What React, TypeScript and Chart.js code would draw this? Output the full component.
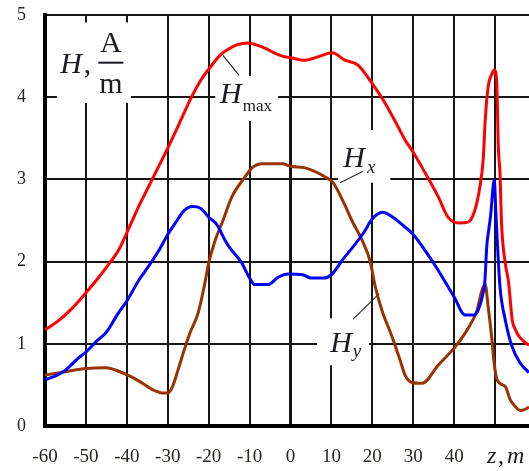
import React, { useEffect, useRef } from "react";
import { Chart, registerables } from "chart.js";

Chart.register(...registerables);

// Position along the axis, z (m)
const zTicks = [-60, -50, -40, -30, -20, -10, 0, 10, 20, 30, 40, 50];
const hTicks = [0, 1, 2, 3, 4, 5];

// H_max (red)
const zMax = [-60, -57, -54, -50, -47, -45, -42, -40, -37, -35, -33, -30, -27, -25, -24, -22, -20, -17, -15, -13, -10.5, -8, -6, -4, -2, 0, 3.6, 6.7, 10.2, 13.3, 16.5, 19.9, 23.1, 26.3, 28, 30, 32.9, 36.1, 38.5, 41, 43.4, 45.1, 46.3, 47.1, 47.6, 48.3, 49.3, 49.8, 50.4, 50.8, 51.2, 51.6, 52.5, 53.3, 54.2, 55, 56, 58.3];
const hMax = [1.17, 1.27, 1.4, 1.62, 1.8, 1.93, 2.14, 2.35, 2.68, 2.88, 3.08, 3.38, 3.7, 3.92, 4.02, 4.2, 4.34, 4.52, 4.59, 4.64, 4.66, 4.63, 4.59, 4.54, 4.5, 4.48, 4.45, 4.49, 4.54, 4.45, 4.39, 4.17, 3.93, 3.64, 3.48, 3.33, 3.08, 2.79, 2.54, 2.47, 2.48, 2.63, 2.91, 3.24, 3.72, 4.12, 4.29, 4.33, 4.2, 3.4, 3.08, 2.45, 1.98, 1.75, 1.29, 1.17, 1.08, 0.98];

// H_y (blue)
const zY = [-60, -57, -55, -52, -50, -47, -45, -42, -40, -37, -35, -32, -30, -28, -26, -24, -22, -20, -18, -16, -15, -12, -10, -8.7, -5.5, -3, -0.6, 3, 5, 8, 10, 13, 15, 18, 20, 22.5, 25, 28, 30, 35, 40, 42.7, 45, 46.5, 47, 47.5, 48, 48.5, 49, 49.5, 49.8, 50.2, 50.6, 51.2, 52.5, 54.2, 56.1, 58.3];
const hY = [0.56, 0.62, 0.68, 0.82, 0.9, 1.05, 1.14, 1.38, 1.52, 1.78, 1.92, 2.15, 2.33, 2.48, 2.62, 2.67, 2.65, 2.54, 2.45, 2.26, 2.18, 1.99, 1.8, 1.72, 1.72, 1.81, 1.85, 1.84, 1.8, 1.8, 1.84, 2.04, 2.16, 2.36, 2.52, 2.6, 2.54, 2.42, 2.33, 1.98, 1.57, 1.35, 1.35, 1.5, 1.6, 1.75, 2.2, 2.4, 2.6, 2.9, 3.0, 2.6, 2.2, 1.7, 1.29, 0.96, 0.77, 0.65];

// H_x (brown)
const zX = [-60, -55, -50, -45, -41.7, -39, -36.8, -33.6, -31, -30, -29, -27.5, -26, -24.5, -22.6, -21, -20, -18.4, -16.5, -14.3, -11.1, -9.4, -6.9, -2, 0, 3.6, 8.5, 10.4, 12.9, 15, 17.5, 19.5, 20.7, 22.4, 24.8, 26.8, 28, 29.7, 32.2, 36.1, 40.2, 43.2, 45.6, 46.8, 47.6, 48.3, 49.3, 49.7, 50.5, 52.5, 53.7, 54.9, 56.1, 57.2, 58.3];
const hX = [0.62, 0.66, 0.7, 0.71, 0.66, 0.6, 0.54, 0.44, 0.4, 0.4, 0.46, 0.68, 0.92, 1.14, 1.37, 1.72, 1.98, 2.26, 2.5, 2.79, 3.03, 3.14, 3.19, 3.19, 3.16, 3.14, 3.03, 2.96, 2.73, 2.5, 2.26, 2.0, 1.7, 1.4, 1.09, 0.8, 0.62, 0.53, 0.52, 0.74, 0.96, 1.17, 1.41, 1.65, 1.72, 1.46, 1.02, 0.8, 0.56, 0.48, 0.32, 0.24, 0.19, 0.2, 0.23];

const toPoints = (zs: number[], hs: number[]) => zs.map((z, i) => ({ x: z, y: hs[i] }));

const SERIF = '"Liberation Serif", "Times New Roman", serif';
const INK = "#1c1c22";

// White patches behind the curve labels, in axis units
const labelPatches = [
  { z0: -57.1, z1: -39.0, h0: 4.91, h1: 3.93 },
  { z0: -18.4, z1: -3.0, h0: 4.26, h1: 3.71 },
  { z0: 11.6, z1: 24.4, h0: 3.6, h1: 2.96 },
  { z0: 6.5, z1: 19.2, h0: 1.31, h1: 0.74 },
];

// Leader lines from labels to curves, in axis units
const leaders = [
  { z0: -16.5, h0: 4.51, z1: -12.6, h1: 4.27 },
  { z0: 12.1, h0: 2.96, z1: 17.8, h1: 3.1 },
  { z0: 15.3, h0: 1.3, z1: 21.7, h1: 1.61 },
];

const labelPlugin = {
  id: "fieldLabels",
  beforeDatasetsDraw(chart: any) {
    const { ctx } = chart;
    const xs = chart.scales.x;
    const ys = chart.scales.y;
    const px = (v: number) => xs.getPixelForValue(v);
    const py = (v: number) => ys.getPixelForValue(v);
    ctx.save();

    ctx.fillStyle = "#ffffff";
    for (const p of labelPatches) {
      const x0 = px(p.z0), x1 = px(p.z1), y0 = py(p.h0), y1 = py(p.h1);
      ctx.fillRect(x0, y0, x1 - x0, y1 - y0);
    }

    ctx.strokeStyle = "#2a2a2a";
    ctx.lineWidth = 1.2;
    for (const l of leaders) {
      ctx.beginPath();
      ctx.moveTo(px(l.z0), py(l.h0));
      ctx.lineTo(px(l.z1), py(l.h1));
      ctx.stroke();
    }

    ctx.fillStyle = INK;
    ctx.textBaseline = "alphabetic";
    ctx.textAlign = "left";
    const bigItalic = `italic 30px ${SERIF}`;
    const big = `30px ${SERIF}`;

    // H, A/m
    ctx.font = bigItalic;
    let hx = px(-56.3), hy = py(4.29);
    ctx.fillText("H", hx, hy);
    let w = ctx.measureText("H").width;
    ctx.font = big;
    ctx.fillText(",", hx + w + 2, hy);
    const cx = px(-43.9), barY = py(4.42);
    ctx.textAlign = "center";
    ctx.fillText("A", cx, barY - 11);
    ctx.fillText("m", cx, barY + 30);
    ctx.fillRect(cx - 12.5, barY - 1, 25, 2);
    ctx.textAlign = "left";

    // H_max
    ctx.font = bigItalic;
    hx = px(-17.2); hy = py(3.93);
    ctx.fillText("H", hx, hy);
    w = ctx.measureText("H").width;
    ctx.font = `17px ${SERIF}`;
    ctx.fillText("max", hx + w + 1, hy + 8);

    // H_x
    ctx.font = bigItalic;
    hx = px(12.9); hy = py(3.15);
    ctx.fillText("H", hx, hy);
    w = ctx.measureText("H").width;
    ctx.font = `italic 19px ${SERIF}`;
    ctx.fillText("x", hx + w + 2, hy + 6);

    // H_y
    ctx.font = bigItalic;
    hx = px(9.7); hy = py(0.9);
    ctx.fillText("H", hx, hy);
    w = ctx.measureText("H").width;
    ctx.font = `italic 19px ${SERIF}`;
    ctx.fillText("y", hx + w + 1, hy + 5);

    ctx.restore();
  },
  afterDraw(chart: any) {
    // axis title "z, m" in place of the last tick label
    const { ctx } = chart;
    const xs = chart.scales.x;
    const x0 = xs.getPixelForValue(50) - 8;
    const y0 = chart.chartArea.bottom + 31;
    ctx.save();
    ctx.fillStyle = INK;
    ctx.textBaseline = "middle";
    ctx.textAlign = "left";
    ctx.font = `italic 24px ${SERIF}`;
    ctx.fillText("z", x0, y0);
    ctx.font = `24px ${SERIF}`;
    ctx.fillText(",", x0 + 11, y0);
    ctx.font = `italic 24px ${SERIF}`;
    ctx.fillText("m", x0 + 20, y0);
    ctx.restore();
  },
};

export default function App() {
  const canvasRef = useRef<HTMLCanvasElement | null>(null);

  useEffect(() => {
    if (!canvasRef.current) return;
    const chart = new Chart(canvasRef.current, {
      type: "line",
      data: {
        datasets: [
          {
            label: "Hmax",
            data: toPoints(zMax, hMax),
            borderColor: "#ff0000",
            borderWidth: 3,
            pointRadius: 0,
            cubicInterpolationMode: "monotone",
          },
          {
            label: "Hy",
            data: toPoints(zY, hY),
            borderColor: "#0000ff",
            borderWidth: 3,
            pointRadius: 0,
            cubicInterpolationMode: "monotone",
          },
          {
            label: "Hx",
            data: toPoints(zX, hX),
            borderColor: "#993300",
            borderWidth: 3,
            pointRadius: 0,
            cubicInterpolationMode: "monotone",
          },
        ],
      },
      options: {
        animation: false,
        responsive: false,
        devicePixelRatio: 1,
        layout: { padding: { top: 15, right: 0, left: 0, bottom: 0 } },
        plugins: { legend: { display: false }, tooltip: { enabled: false } },
        scales: {
          x: {
            type: "linear",
            min: -60,
            max: 58.3,
            afterBuildTicks: (scale: any) => {
              scale.ticks = zTicks.map((v) => ({ value: v }));
            },
            afterFit: (scale: any) => {
              scale.height = 45;
            },
            grid: {
              color: "#151515",
              lineWidth: (c: any) => (c.tick && c.tick.value === 0 ? 3 : 2),
              drawTicks: false,
            },
            border: { display: true, color: "#000", width: 4 },
            ticks: {
              padding: 20,
              maxRotation: 0,
              autoSkip: false,
              color: "#2a2420",
              font: { family: SERIF, size: 19 },
              callback: (v: any) => (v === 50 ? "" : String(v)),
            },
          },
          y: {
            type: "linear",
            min: 0,
            max: 5,
            afterBuildTicks: (scale: any) => {
              scale.ticks = hTicks.map((v) => ({ value: v }));
            },
            afterFit: (scale: any) => {
              scale.width = 45;
            },
            grid: {
              color: "#151515",
              lineWidth: 2,
              drawTicks: true,
              tickLength: 19,
              tickColor: "rgba(0,0,0,0)",
            },
            border: { display: true, color: "#000", width: 4 },
            ticks: {
              padding: 0,
              color: "#2a2420",
              font: { family: SERIF, size: 18 },
            },
          },
        },
      },
      plugins: [labelPlugin],
    } as any);
    return () => chart.destroy();
  }, []);

  return (
    <div style={{ position: "fixed", left: 0, top: 0, width: 529, height: 471, background: "#fff" }}>
      <canvas ref={canvasRef} width={529} height={471} />
    </div>
  );
}
